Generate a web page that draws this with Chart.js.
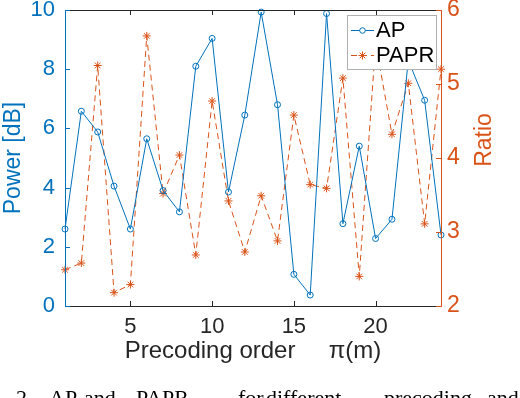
<!DOCTYPE html>
<html>
<head>
<meta charset="utf-8">
<script src="https://cdn.jsdelivr.net/npm/chart.js@4.4.1/dist/chart.umd.min.js"></script>
<style>
  html, body { margin: 0; padding: 0; background: #fff; }
  #wrap { width: 520px; height: 398px; position: relative; }
</style>
</head>
<body>
<div id="wrap"><canvas id="chart" width="520" height="398"></canvas></div>
<script>
// precoding order index pi(m)
const ORDERS = [1, 2, 3, 4, 5, 6, 7, 8, 9, 10, 11, 12, 13, 14, 15, 16, 17, 18, 19, 20, 21, 22, 23, 24];
// AP in dB (left axis)
const AP = [2.6, 6.58, 5.88, 4.05, 2.6, 5.65, 3.9, 3.18, 8.1, 9.04, 3.85, 6.45, 9.93, 6.8, 1.07, 0.37, 9.88, 2.78, 5.4, 2.28, 2.93, 8.3, 6.95, 2.4];
// PAPR ratio (right axis)
const PAPR = [2.49, 2.58, 5.25, 2.18, 2.29, 5.65, 3.52, 4.04, 2.69, 4.77, 3.42, 2.73, 3.49, 2.88, 4.58, 3.64, 3.59, 5.08, 2.4, 5.55, 4.32, 5.01, 3.11, 5.2];

const X_TICKS = [5, 10, 15, 20];
const LEFT_TICKS = [0, 2, 4, 6, 8, 10];
const RIGHT_TICKS = [2, 3, 4, 5, 6];

// paper caption under the figure (justified, so words are placed one by one)
const CAPTION_WORDS = [['2.', 16], ['AP', 49], ['and', 84], ['PAPR', 136], ['for', 238], ['different', 266], ['precoding', 384], ['and', 487]];

const BLUE = '#0072BD';
const ORANGE = '#D95319';
const DARK = '#262626';
const SANS = '"Liberation Sans", Arial, Helvetica, sans-serif';

// box, inward tick marks, right label, legend and caption — MATLAB look
const matlabFrame = {
    id: 'matlabFrame',
    afterDatasetsDraw(chart) {
        const { ctx, chartArea: a, scales } = chart;
        const tl = 5;
        ctx.save();
        ctx.lineWidth = 1;

        // top / bottom
        ctx.strokeStyle = DARK;
        ctx.beginPath();
        ctx.moveTo(a.left, a.top + 0.5); ctx.lineTo(a.right, a.top + 0.5);
        ctx.moveTo(a.left, a.bottom + 0.5); ctx.lineTo(a.right, a.bottom + 0.5);
        X_TICKS.forEach(v => {
            const x = Math.round(scales.x.getPixelForValue(v)) + 0.5;
            ctx.moveTo(x, a.bottom); ctx.lineTo(x, a.bottom - tl);
            ctx.moveTo(x, a.top); ctx.lineTo(x, a.top + tl);
        });
        ctx.stroke();

        // left spine
        ctx.strokeStyle = BLUE;
        ctx.beginPath();
        ctx.moveTo(a.left + 0.5, a.top); ctx.lineTo(a.left + 0.5, a.bottom + 1);
        LEFT_TICKS.forEach(v => {
            const y = Math.round(scales.y.getPixelForValue(v)) + 0.5;
            ctx.moveTo(a.left, y); ctx.lineTo(a.left + tl, y);
        });
        ctx.stroke();

        // right spine
        ctx.strokeStyle = ORANGE;
        ctx.beginPath();
        ctx.moveTo(a.right + 0.5, a.top); ctx.lineTo(a.right + 0.5, a.bottom + 1);
        RIGHT_TICKS.forEach(v => {
            const y = Math.round(scales.y1.getPixelForValue(v)) + 0.5;
            ctx.moveTo(a.right, y); ctx.lineTo(a.right - tl, y);
        });
        ctx.stroke();

        // right axis title, reads upward like MATLAB
        ctx.save();
        ctx.translate(485, 140);
        ctx.rotate(-Math.PI / 2);
        ctx.fillStyle = ORANGE;
        ctx.font = '23px ' + SANS;
        ctx.textAlign = 'center';
        ctx.textBaseline = 'middle';
        ctx.fillText('Ratio', 0, 0);
        ctx.restore();

        // legend
        const lx = 347.5, ly = 15.5, lw = 89, lh = 54;
        ctx.fillStyle = '#fff';
        ctx.fillRect(lx, ly, lw, lh);
        ctx.strokeStyle = '#b0b0b0';
        ctx.strokeRect(lx, ly, lw, lh);

        ctx.font = '22px ' + SANS;
        ctx.textBaseline = 'middle';
        ctx.fillStyle = '#000';

        // AP entry
        ctx.strokeStyle = BLUE;
        ctx.beginPath();
        ctx.moveTo(351, 30.5); ctx.lineTo(374, 30.5);
        ctx.stroke();
        ctx.beginPath();
        ctx.arc(362.5, 30.5, 2.8, 0, Math.PI * 2);
        ctx.fillStyle = '#fff'; ctx.fill(); ctx.stroke();
        ctx.fillStyle = '#000';
        ctx.fillText('AP', 376, 31);

        // PAPR entry
        ctx.strokeStyle = ORANGE;
        ctx.setLineDash([6, 4]);
        ctx.beginPath();
        ctx.moveTo(351, 55.5); ctx.lineTo(374, 55.5);
        ctx.stroke();
        ctx.setLineDash([]);
        ctx.beginPath();
        const r = 4;
        for (let k = 0; k < 4; k++) {
            const ang = k * Math.PI / 4;
            ctx.moveTo(362.5 - r * Math.cos(ang), 55.5 - r * Math.sin(ang));
            ctx.lineTo(362.5 + r * Math.cos(ang), 55.5 + r * Math.sin(ang));
        }
        ctx.stroke();
        ctx.fillText('PAPR', 376, 56);

        // cut-off figure caption: only the tops of the capitals show
        ctx.fillStyle = '#000';
        ctx.font = '22px "Liberation Serif", "Times New Roman", serif';
        ctx.textBaseline = 'alphabetic';
        ctx.textAlign = 'left';
        const capAscent = ctx.measureText('A').actualBoundingBoxAscent || 14.5;
        const baseY = 391 + capAscent;
        CAPTION_WORDS.forEach(([w, x]) => ctx.fillText(w, x, baseY));

        ctx.restore();
    }
};

const noPad = s => { s.paddingTop = 0; s.paddingBottom = 0; s.paddingLeft = 0; s.paddingRight = 0; };

const ctx = document.getElementById('chart').getContext('2d');
new Chart(ctx, {
    type: 'line',
    data: {
        labels: ORDERS,
        datasets: [
            {
                label: 'AP',
                data: ORDERS.map((o, i) => ({ x: o, y: AP[i] })),
                yAxisID: 'y',
                borderColor: BLUE,
                borderWidth: 1,
                pointStyle: 'circle',
                pointRadius: 3,
                pointBorderWidth: 1,
                pointBorderColor: BLUE,
                pointBackgroundColor: 'rgba(255,255,255,0)',
                tension: 0,
                fill: false,
                clip: 6,
            },
            {
                label: 'PAPR',
                data: ORDERS.map((o, i) => ({ x: o, y: PAPR[i] })),
                yAxisID: 'y1',
                borderColor: ORANGE,
                borderWidth: 1,
                borderDash: [6, 4],
                pointStyle: 'star',
                pointRadius: 4,
                pointBorderWidth: 1,
                pointBorderColor: ORANGE,
                pointBackgroundColor: ORANGE,
                tension: 0,
                fill: false,
                clip: 6,
            }
        ]
    },
    options: {
        responsive: false,
        animation: false,
        layout: { padding: { top: 10, left: 0, right: 0, bottom: 0 } },
        scales: {
            x: {
                type: 'linear',
                min: 1, max: 24,
                afterBuildTicks: s => { s.ticks = X_TICKS.map(v => ({ value: v })); },
                afterFit: s => { s.height = 92; noPad(s); },
                grid: { display: false, drawTicks: false },
                border: { display: false },
                ticks: { color: DARK, font: { size: 22, family: SANS }, padding: 8, maxRotation: 0 },
                title: { display: true, text: 'Precoding order     π(m)', color: DARK, font: { size: 24, family: SANS }, padding: { bottom: 32 } }
            },
            y: {
                position: 'left',
                min: 0, max: 10,
                afterBuildTicks: s => { s.ticks = LEFT_TICKS.map(v => ({ value: v })); },
                afterFit: s => { s.width = 65; noPad(s); },
                grid: { display: false, drawTicks: false },
                border: { display: false },
                ticks: { color: BLUE, font: { size: 22, family: SANS }, padding: 10 },
                title: { display: true, text: 'Power [dB]', color: BLUE, font: { size: 23, family: SANS }, padding: 0 }
            },
            y1: {
                position: 'right',
                min: 2, max: 6,
                afterBuildTicks: s => { s.ticks = RIGHT_TICKS.map(v => ({ value: v })); },
                afterFit: s => { s.width = 79; noPad(s); },
                grid: { display: false, drawTicks: false },
                border: { display: false },
                ticks: { color: ORANGE, font: { size: 23, family: SANS }, padding: 6 }
            }
        },
        plugins: {
            legend: { display: false },
            tooltip: { enabled: false }
        }
    },
    plugins: [matlabFrame]
});
</script>
</body>
</html>
